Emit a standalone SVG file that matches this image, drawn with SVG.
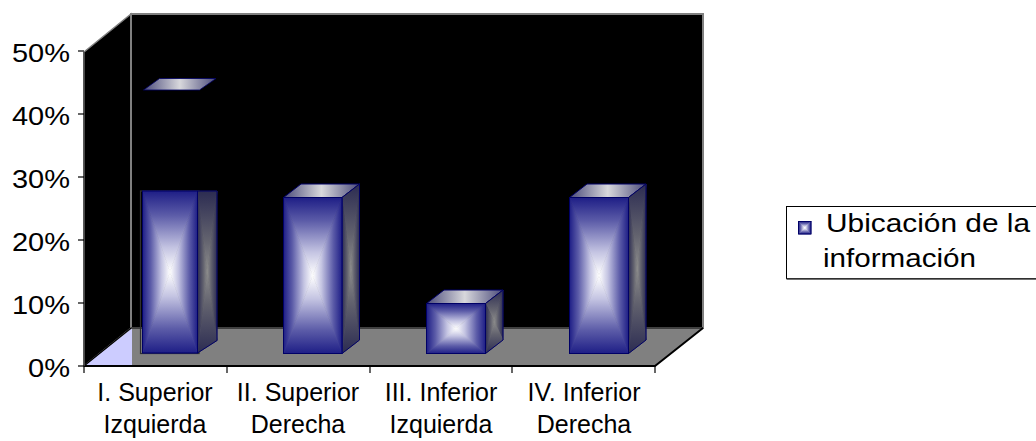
<svg xmlns="http://www.w3.org/2000/svg" width="1036" height="441" viewBox="0 0 1036 441">
<style>
text{font-family:"Liberation Sans",Arial,sans-serif;fill:#000}
.yl{font-size:26.5px;text-anchor:end}
.xl{font-size:25px;text-anchor:middle}
.lg{font-size:25.5px}
.edge{fill:none;stroke:#000066;stroke-width:1}
.tick{stroke:#000;stroke-width:1.2}
.fT{fill:url(#fT);stroke:url(#fT);stroke-width:0.7}
.fR{fill:url(#fR);stroke:url(#fR);stroke-width:0.7}
.fB{fill:url(#fB);stroke:url(#fB);stroke-width:0.7}
.fL{fill:url(#fL);stroke:url(#fL);stroke-width:0.7}
.sT{fill:url(#sT);stroke:url(#sT);stroke-width:0.7}
.sR{fill:url(#sR);stroke:url(#sR);stroke-width:0.7}
.sB{fill:url(#sB);stroke:url(#sB);stroke-width:0.7}
.sL{fill:url(#sL);stroke:url(#sL);stroke-width:0.7}
</style>
<defs>
<linearGradient id="fL" x1="0" y1="0" x2="1" y2="0"><stop offset="0" stop-color="#1e1e86"/><stop offset="0.3" stop-color="#5c5ca8"/><stop offset="0.7" stop-color="#c4c4e2"/><stop offset="1" stop-color="#ffffff"/></linearGradient>
<linearGradient id="fR" href="#fL" x1="1" y1="0" x2="0" y2="0"/>
<linearGradient id="fT" href="#fL" x1="0" y1="0" x2="0" y2="1"/>
<linearGradient id="fB" href="#fL" x1="0" y1="1" x2="0" y2="0"/>
<linearGradient id="sL" x1="0" y1="0" x2="1" y2="0"><stop offset="0" stop-color="#2c2c52"/><stop offset="0.6" stop-color="#62626e"/><stop offset="1" stop-color="#8c8c8c"/></linearGradient>
<linearGradient id="sR" href="#sL" x1="1" y1="0" x2="0" y2="0"/>
<linearGradient id="sT" href="#sL" x1="0" y1="0" x2="0" y2="1"/>
<linearGradient id="sB" href="#sL" x1="0" y1="1" x2="0" y2="0"/>
<linearGradient id="tp" x1="0" y1="0" x2="1" y2="0"><stop offset="0" stop-color="#4a4a7a"/><stop offset="0.5" stop-color="#d8d8dc"/><stop offset="1" stop-color="#4a4a7a"/></linearGradient>
</defs>

<g id="walls">
<polygon points="84,52 131,14 131,328 84,366" fill="#000" stroke="#808080" stroke-width="1.5"/>
<rect x="131" y="14" width="572" height="314" fill="#000" stroke="#808080" stroke-width="2"/>
<polygon points="84,366 655,366 703,328 131,328" fill="#808080"/>
<polygon points="84,366 132,328.5 132,366" fill="#ccccff"/>
<polyline points="84,366 131,328 703,328" fill="none" stroke="#000" stroke-width="1.2"/>
<polyline points="84,366 655,366 703,328" fill="none" stroke="#000" stroke-width="2"/>
<line x1="84" y1="52" x2="84" y2="366" stroke="#404040" stroke-width="1.5"/>
</g>

<g id="axes">
<line class="tick" x1="78" y1="366" x2="84" y2="366"/>
<line class="tick" x1="78" y1="303" x2="84" y2="303"/>
<line class="tick" x1="78" y1="240" x2="84" y2="240"/>
<line class="tick" x1="78" y1="177" x2="84" y2="177"/>
<line class="tick" x1="78" y1="114" x2="84" y2="114"/>
<line class="tick" x1="78" y1="51" x2="84" y2="51"/>
<line class="tick" x1="84" y1="366" x2="84" y2="373"/>
<line class="tick" x1="227" y1="366" x2="227" y2="373"/>
<line class="tick" x1="370" y1="366" x2="370" y2="373"/>
<line class="tick" x1="512" y1="366" x2="512" y2="373"/>
<line class="tick" x1="655" y1="366" x2="655" y2="373"/>
<text class="yl" x="70" y="376.5" textLength="42" lengthAdjust="spacingAndGlyphs">0%</text>
<text class="yl" x="70" y="313.5" textLength="58" lengthAdjust="spacingAndGlyphs">10%</text>
<text class="yl" x="70" y="250.5" textLength="58" lengthAdjust="spacingAndGlyphs">20%</text>
<text class="yl" x="70" y="187.5" textLength="58" lengthAdjust="spacingAndGlyphs">30%</text>
<text class="yl" x="70" y="124.5" textLength="58" lengthAdjust="spacingAndGlyphs">40%</text>
<text class="yl" x="70" y="62" textLength="58" lengthAdjust="spacingAndGlyphs">50%</text>
<text class="xl" x="155" y="401">I. Superior</text>
<text class="xl" x="155" y="433">Izquierda</text>
<text class="xl" x="298" y="401">II. Superior</text>
<text class="xl" x="298" y="433">Derecha</text>
<text class="xl" x="441" y="401">III. Inferior</text>
<text class="xl" x="441" y="433">Izquierda</text>
<text class="xl" x="584" y="401">IV. Inferior</text>
<text class="xl" x="584" y="433">Derecha</text>
</g>

<g id="bar1">
<rect x="140.5" y="191" width="58.5" height="162.5" fill="none" stroke="#303030" stroke-width="1.2"/>
<polygon points="143.5,90 159.5,78.5 216,78.5 199.5,90" fill="url(#tp)" stroke="#000066" stroke-width="0.8"/>
<polygon class="sT" points="197.5,191 217,191 207.25,271.75"/>
<polygon class="sR" points="217,191 217,340.5 207.25,271.75"/>
<polygon class="sB" points="217,340.5 197.5,353 207.25,271.75"/>
<polygon class="sL" points="197.5,353 197.5,191 207.25,271.75"/>
<polygon class="edge" points="197.5,191 217,191 217,340.5 197.5,353"/>
<polygon class="fT" points="142.5,191 197.5,191 170,272"/>
<polygon class="fR" points="197.5,191 197.5,353 170,272"/>
<polygon class="fB" points="197.5,353 142.5,353 170,272"/>
<polygon class="fL" points="142.5,353 142.5,191 170,272"/>
<rect class="edge" x="142.5" y="191" width="55" height="162"/>
</g>

<g id="bar2">
<polygon points="283.5,197.5 301,184 359.5,184 342,197.5" fill="url(#tp)"/>
<polygon class="edge" points="283.5,197.5 301,184 359.5,184 342,197.5"/>
<polygon class="sT" points="342,197.5 359.5,184 350.75,268.75"/>
<polygon class="sR" points="359.5,184 359.5,340 350.75,268.75"/>
<polygon class="sB" points="359.5,340 342,353.5 350.75,268.75"/>
<polygon class="sL" points="342,353.5 342,197.5 350.75,268.75"/>
<polygon class="edge" points="342,197.5 359.5,184 359.5,340 342,353.5"/>
<polygon class="fT" points="283.5,197.5 342,197.5 312.75,275.5"/>
<polygon class="fR" points="342,197.5 342,353.5 312.75,275.5"/>
<polygon class="fB" points="342,353.5 283.5,353.5 312.75,275.5"/>
<polygon class="fL" points="283.5,353.5 283.5,197.5 312.75,275.5"/>
<rect class="edge" x="283.5" y="197.5" width="58.5" height="156"/>
</g>

<g id="bar3">
<polygon points="426.5,303.5 444,290 503,290 485.5,303.5" fill="url(#tp)"/>
<polygon class="edge" points="426.5,303.5 444,290 503,290 485.5,303.5"/>
<polygon class="sT" points="485.5,303.5 503,290 494.25,321.75"/>
<polygon class="sR" points="503,290 503,340 494.25,321.75"/>
<polygon class="sB" points="503,340 485.5,353.5 494.25,321.75"/>
<polygon class="sL" points="485.5,353.5 485.5,303.5 494.25,321.75"/>
<polygon class="edge" points="485.5,303.5 503,290 503,340 485.5,353.5"/>
<polygon class="fT" points="426.5,303.5 485.5,303.5 456,328.5"/>
<polygon class="fR" points="485.5,303.5 485.5,353.5 456,328.5"/>
<polygon class="fB" points="485.5,353.5 426.5,353.5 456,328.5"/>
<polygon class="fL" points="426.5,353.5 426.5,303.5 456,328.5"/>
<rect class="edge" x="426.5" y="303.5" width="59" height="50"/>
</g>

<g id="bar4">
<polygon points="569.5,197.5 587,184 646,184 628.5,197.5" fill="url(#tp)"/>
<polygon class="edge" points="569.5,197.5 587,184 646,184 628.5,197.5"/>
<polygon class="sT" points="628.5,197.5 646,184 637.25,268.75"/>
<polygon class="sR" points="646,184 646,340 637.25,268.75"/>
<polygon class="sB" points="646,340 628.5,353.5 637.25,268.75"/>
<polygon class="sL" points="628.5,353.5 628.5,197.5 637.25,268.75"/>
<polygon class="edge" points="628.5,197.5 646,184 646,340 628.5,353.5"/>
<polygon class="fT" points="569.5,197.5 628.5,197.5 599,275.5"/>
<polygon class="fR" points="628.5,197.5 628.5,353.5 599,275.5"/>
<polygon class="fB" points="628.5,353.5 569.5,353.5 599,275.5"/>
<polygon class="fL" points="569.5,353.5 569.5,197.5 599,275.5"/>
<rect class="edge" x="569.5" y="197.5" width="59" height="156"/>
</g>

<g id="legend">
<rect x="786.5" y="206.5" width="262" height="72" fill="#fff" stroke="#000" stroke-width="1"/>
<line x1="786.5" y1="279" x2="1036" y2="279" stroke="#404040" stroke-width="1.5"/>
<polygon class="fT" points="798.5,221.5 811,221.5 804.75,227.75"/>
<polygon class="fR" points="811,221.5 811,234 804.75,227.75"/>
<polygon class="fB" points="811,234 798.5,234 804.75,227.75"/>
<polygon class="fL" points="798.5,234 798.5,221.5 804.75,227.75"/>
<rect class="edge" x="798.5" y="221.5" width="12.5" height="12.5"/>
<text class="lg" x="826" y="232" textLength="204" lengthAdjust="spacingAndGlyphs">Ubicación de la</text>
<text class="lg" x="823" y="267" textLength="153" lengthAdjust="spacingAndGlyphs">información</text>
</g>
</svg>
